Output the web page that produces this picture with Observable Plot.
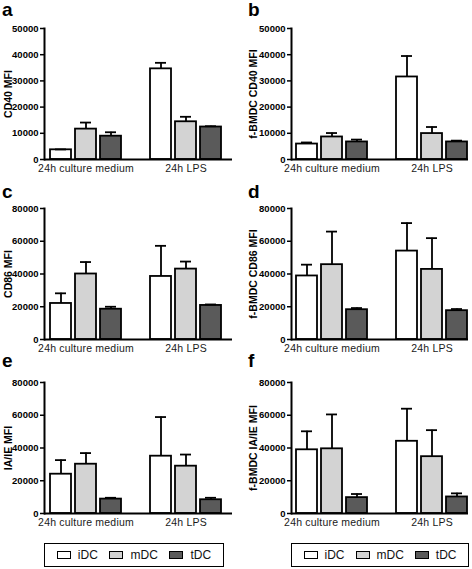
<!DOCTYPE html>
<html><head><meta charset="utf-8">
<script src="https://cdn.jsdelivr.net/npm/d3@7"></script>
<script src="https://cdn.jsdelivr.net/npm/@observablehq/plot@0.6"></script>
<style>
body{margin:0;background:#fff;font-family:"Liberation Sans",Arial,sans-serif;}
#fig{position:relative;width:472px;height:569px;overflow:hidden;background:#fff;}
.panel{position:absolute;}
.panel svg text{font-family:"Liberation Sans",Arial,sans-serif;}
.panel g[aria-label="y-axis tick label"] text{font-weight:bold;font-size:9.5px;fill:#000;}
.panel g[aria-label="y-axis label"] text{font-weight:bold;font-size:10.5px;fill:#000;}
.panel g[aria-label="x-axis tick label"] text{font-size:10.5px;fill:#1a1a1a;letter-spacing:0.2px;}
.letter{position:absolute;font:bold 19px/19px "Liberation Sans",Arial,sans-serif;color:#000;}
.legend{position:absolute;box-sizing:border-box;border:1.6px solid #000;height:24px;display:flex;align-items:center;justify-content:space-around;padding:0 6px;font:12px "Liberation Sans",Arial,sans-serif;color:#111;}
.item{display:flex;align-items:center;}
.sw{display:inline-block;box-sizing:border-box;width:14px;height:8px;border:1.4px solid #000;margin-right:7px;}
</style></head><body><div id="fig"></div>
<script>
const groups = ["24h culture medium", "24h LPS"];
const cellTypes = ["iDC", "mDC", "tDC"];
const typeColors = ["#ffffff", "#d3d3d3", "#5a5a5a"];
const panelLetters = ["a", "b", "c", "d", "e", "f"];
const yTitles = ["CD40 MFI", "f-BMDC CD40 MFI", "CD86 MFI", "f-BMDC CD86 MFI", "IA/IE MFI", "f-BMDC IA/IE MFI"];
const yMax = [50000, 50000, 80000, 80000, 80000, 80000];
const yStep = [10000, 10000, 20000, 20000, 20000, 20000];
// order: culture medium iDC, mDC, tDC, LPS iDC, mDC, tDC
const meanA = [3700, 11600, 8900, 34600, 14400, 12400];
const errA  = [150, 2500, 1500, 2300, 1900, 300];
const meanB = [5900, 8600, 6700, 31500, 9900, 6700];
const errB  = [600, 1500, 900, 8000, 2500, 500];
const meanC = [22000, 40000, 18500, 38500, 43000, 20800];
const errC  = [6200, 7300, 1500, 18700, 4600, 600];
const meanD = [38800, 45700, 18200, 54000, 42800, 17600];
const errD  = [6900, 20200, 1000, 17100, 19100, 1000];
const meanE = [24000, 30100, 8800, 35000, 28900, 8400];
const errE  = [8600, 6800, 800, 23900, 7100, 1200];
const meanF = [38900, 39500, 9700, 44100, 34700, 10100];
const errF  = [11300, 21000, 2200, 19900, 16200, 2200];

const means = [meanA, meanB, meanC, meanD, meanE, meanF];
const errs = [errA, errB, errC, errD, errE, errF];

const key = (g, t) => g + "|" + t;
const gapKey = "gap";
const xDomain = [...cellTypes.map(t => key(groups[0], t)), gapKey, ...cellTypes.map(t => key(groups[1], t))];

const fig = document.getElementById("fig");
const font = '"Liberation Sans", Arial, sans-serif';

function makePanel(i) {
  const isRight = i % 2 === 1;
  const row = Math.floor(i / 2);
  const rows = [];
  groups.forEach((g, gi) => cellTypes.forEach((t, ti) => {
    const k = gi * 3 + ti;
    rows.push({key: key(g, t), type: t, mean: means[i][k], top: means[i][k] + errs[i][k]});
  }));
  const ml = isRight ? 55 : 44;
  const xr = isRight ? [59, 231.5] : [48, 223.5];
  const plot = Plot.plot({
    width: 236, height: 180,
    marginTop: 28, marginBottom: 21, marginLeft: ml, marginRight: 4,
    style: {fontFamily: font, background: "transparent", color: "#000"},
    x: {domain: xDomain, range: xr, paddingInner: 0.17, paddingOuter: 0, axis: null},
    y: {domain: [0, yMax[i]], axis: null},
    color: {domain: cellTypes, range: typeColors},
    marks: [
      Plot.axisY({ticks: d3.range(0, yMax[i] + 1, yStep[i]), tickSize: 4, tickPadding: 2,
        tickFormat: d => String(d), strokeWidth: 1.5,
        label: yTitles[i], labelAnchor: "center", labelArrow: "none", labelOffset: isRight ? 42 : 40}),
      Plot.axisX({ticks: groups.map(g => key(g, cellTypes[1])), tickSize: 0, tickPadding: 5,
        tickFormat: k => k.split("|")[0], label: null}),
      Plot.barY(rows, {x: "key", y: "mean", fill: "type", stroke: "#000", strokeWidth: 1.8}),
      Plot.ruleX(rows, {x: "key", y1: "mean", y2: "top", stroke: "#000", strokeWidth: 1.8}),
      Plot.tickY(rows, {x: "key", y: "top", stroke: "#000", strokeWidth: 1.8, insetLeft: 5, insetRight: 5}),
      Plot.ruleY([0], {stroke: "#000", strokeWidth: 2}),
      Plot.frame({anchor: "left", stroke: "#000", strokeWidth: 2})
    ]
  });
  const div = document.createElement("div");
  div.className = "panel";
  div.style.left = (isRight ? 236 : 0) + "px";
  div.style.top = [0, 180, 354][row] + "px";
  div.appendChild(plot);
  fig.appendChild(div);
  const L = document.createElement("div");
  L.className = "letter";
  L.textContent = panelLetters[i];
  L.style.left = (isRight ? 248 : 2) + "px";
  L.style.top = [0, 182, 351][row] + "px";
  fig.appendChild(L);
}
for (let i = 0; i < 6; i++) makePanel(i);

function makeLegend(left, width) {
  const box = document.createElement("div");
  box.className = "legend";
  box.style.left = left + "px";
  box.style.top = "543px";
  box.style.width = width + "px";
  cellTypes.forEach((t, j) => {
    const it = document.createElement("span");
    it.className = "item";
    const sw = document.createElement("span");
    sw.className = "sw";
    sw.style.background = typeColors[j];
    it.appendChild(sw);
    it.appendChild(document.createTextNode(t));
    box.appendChild(it);
  });
  fig.appendChild(box);
}
makeLegend(44, 180);
makeLegend(291, 178);
</script></body></html>
